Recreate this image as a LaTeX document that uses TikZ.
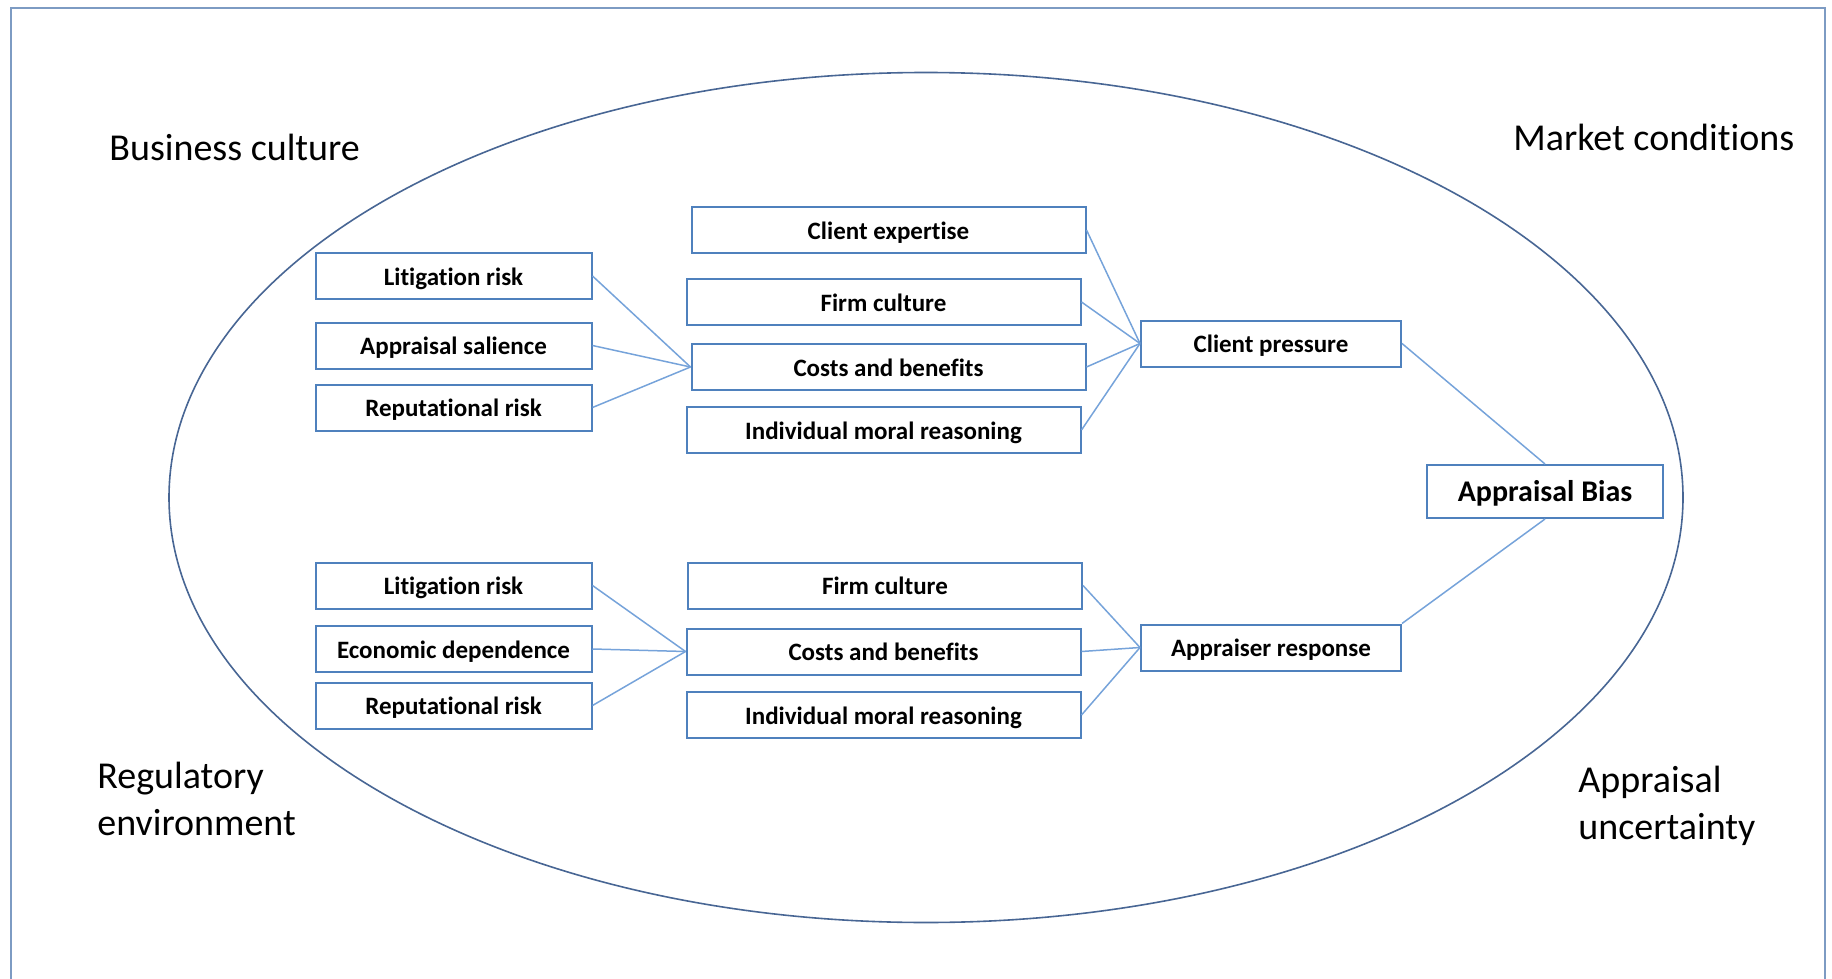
\documentclass[tikz,border=0pt]{standalone}
\usepackage{fontspec}
\setmainfont{Carlito}[Ligatures=NoCommon]
\usetikzlibrary{positioning}
\definecolor{boxblue}{RGB}{79,129,189}
\definecolor{linkblue}{RGB}{118,163,218}
\definecolor{ringblue}{RGB}{72,102,148}
\definecolor{framegray}{RGB}{125,155,195}
\tikzset{
 factor/.style={rectangle,draw=boxblue,line width=1pt,minimum width=138pt,minimum height=23pt,inner sep=0pt,text height=10pt,text depth=1pt,align=center,font=\fontsize{12.5}{15}\selectfont\bfseries},
 driver/.style={factor,minimum width=197pt},
 pressure/.style={factor,minimum width=130pt},
 outcome/.style={factor,minimum width=118pt,minimum height=26.5pt,text height=11pt,text depth=1.2pt,font=\fontsize{15}{18}\selectfont\bfseries},
 context/.style={align=left,anchor=west,inner sep=0pt,font=\fontsize{19}{23.5}\selectfont},
 link/.style={draw=linkblue,line width=0.75pt}}

\begin{document}
\begin{tikzpicture}[x=0.5pt,y=-0.5pt]
\useasboundingbox (0,0) rectangle (1832,979);
\draw[framegray,line width=1.25pt] (11,979) -- (11,8) -- (1825,8) -- (1825,979);
\draw[ringblue,line width=0.8pt] (926,497.5) ellipse [x radius=378.5pt,y radius=212.5pt];
% surrounding context
\node[context] (busi) at (109,147) {Business culture};
\node[context] (mark) at (1513,137) {Market conditions};
\node[context] (regu) at (97,799) {Regulatory\\environment};
\node[context] (unce) at (1578,806) {Appraisal\\uncertainty};
% client side
\node[factor] (lit1) at (453.5,276) {Litigation risk};
\node[factor] (sal) at (453.5,345.5) {Appraisal salience};
\node[factor] (rep1) at (453.5,407.5) {Reputational risk};
\node[driver] (cexp) at (888.5,230) {Client expertise};
\node[driver] (firm1) at (883.5,302) {Firm culture};
\node[driver] (cb1) at (888.5,367) {Costs and benefits};
\node[driver] (moral1) at (883.5,430) {Individual moral reasoning};
\node[pressure] (cp) at (1271,343.5) {Client pressure};
% appraiser side
\node[factor] (lit2) at (453.5,585.5) {Litigation risk};
\node[factor] (econ) at (453.5,649) {Economic dependence};
\node[factor] (rep2) at (453.5,705.5) {Reputational risk};
\node[driver] (firm2) at (885,585.5) {Firm culture};
\node[driver] (cb2) at (883.5,651.5) {Costs and benefits};
\node[driver] (moral2) at (883.5,715) {Individual moral reasoning};
\node[pressure] (ar) at (1271,647.5) {Appraiser response};
\node[outcome] (bias) at (1545,491.5) {Appraisal Bias};
\foreach \a in {lit1,sal,rep1} \draw[link] (\a.east) -- (cb1.west);
\foreach \a in {cexp,firm1,cb1,moral1} \draw[link] (\a.east) -- (cp.west);
\foreach \a in {lit2,econ,rep2} \draw[link] (\a.east) -- (cb2.west);
\foreach \a in {firm2,cb2,moral2} \draw[link] (\a.east) -- (ar.west);
\draw[link] (cp.east) -- (bias.north);
\draw[link] (ar.north east) -- (bias.south);
\end{tikzpicture}
\end{document}
